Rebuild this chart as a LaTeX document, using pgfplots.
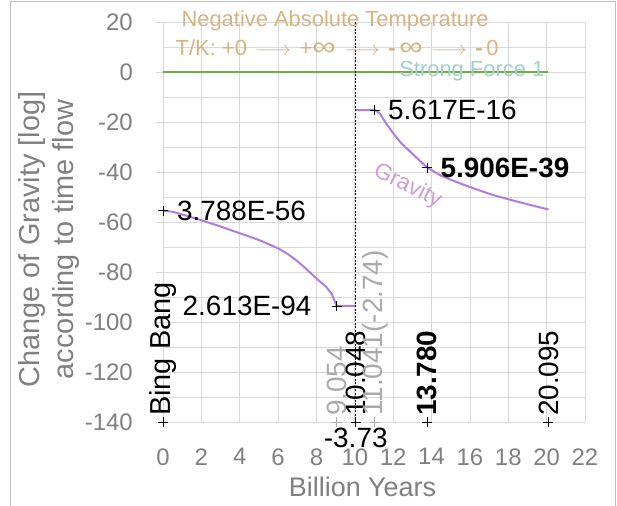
\documentclass[border=0pt]{standalone}
\usepackage{fontspec}
\setmainfont{Liberation Sans}
\usepackage{graphicx}
\usepackage{pgfplots}
\pgfplotsset{compat=1.18}
\definecolor{gridgray}{RGB}{217,217,217}
\definecolor{tickgray}{RGB}{128,128,128}
\definecolor{tantxt}{RGB}{216,178,130}
\definecolor{tealtxt}{RGB}{165,205,205}
\definecolor{sfgreen}{RGB}{112,173,71}
\definecolor{gpurple}{RGB}{175,125,225}
\definecolor{lilac}{RGB}{205,160,210}
\definecolor{lgray}{RGB}{170,170,170}
\definecolor{framegray}{RGB}{190,190,190}
\newcommand{\infy}{\raisebox{-0.5bp}{\scalebox{1.5}[1.2]{∞}}}
\newcommand{\arr}{\hspace{8bp}\scalebox{1.1}[1]{$\longrightarrow$}\hspace{8bp}}
\begin{document}
\begin{tikzpicture}
\path[use as bounding box] (-163bp,-84bp) rectangle (454bp,422bp);
\begin{axis}[
  scale only axis, width=422bp, height=400bp, anchor=south west, at={(0,0)},
  xmin=0, xmax=22, ymin=-140, ymax=20,
  xtick={0,2,...,22}, ytick={-140,-120,...,20}, minor ytick={-130,-110,...,10},
  grid=both,
  major grid style={gridgray, line width=0.8bp},
  minor grid style={gridgray, line width=0.8bp},
  axis line style={draw=none},
  xtick pos=bottom, ytick pos=left,
  tick align=outside, major tick length=7bp, minor tick length=0pt,
  xtick style={draw=none},
  ytick style={gridgray, line width=0.8bp},
  tick label style={font=\fontsize{24}{28}\selectfont, text=tickgray},
  /pgf/number format/assume math mode=true,
  xticklabel style={yshift=-16bp},
  yticklabel style={anchor=east, inner sep=0pt},
  yticklabel shift=23bp,
  clip=false,
]
% strong force
\addplot[sfgreen, line width=2.5bp] coordinates {(0,0) (20.095,0)};
% gravity part 1
\addplot[gpurple, line width=2bp] coordinates {
 (0,-55.42) (0.5,-55.9) (1,-57.0) (2,-59.3) (3,-61.8) (4,-64.5) (5,-67.2)
 (6,-70.5) (6.5,-72.8) (7,-75.6) (7.5,-79.0) (8,-82.6) (8.5,-85.9) (8.8,-88.8)
 (9.054,-93.58) (10.048,-93.58)};
% gravity part 2
\addplot[gpurple, line width=2bp] coordinates {
 (10.048,-15.25) (11.041,-15.25) (11.3,-16.6) (11.6,-20.2) (12.0,-24.5) (12.4,-28.3)
 (12.9,-32.0) (13.35,-35.2) (13.78,-38.23) (14.5,-41.5) (15.5,-44.6) (16.4,-47.1)
 (17.2,-49.2) (18.1,-51.1) (19.0,-52.9) (20.095,-55.0)};
% dotted divider
\addplot[black, line width=1.2bp, dash pattern=on 2bp off 1.5bp] coordinates {(10.048,20) (10.048,-140)};
% markers
\addplot[only marks, mark=+, mark size=5bp, black, line width=0.8bp] coordinates {
 (0,-55.42) (9.054,-93.58) (11.041,-15.25) (13.78,-38.23)
 (0,-140) (10.048,-140) (13.78,-140) (20.095,-140)};
\addplot[only marks, mark=+, mark size=5bp, lgray, line width=0.8bp] coordinates {
 (9.054,-140) (11.041,-140)};
% data labels
\node[anchor=west, inner sep=0pt, font=\fontsize{28}{32}\selectfont] at (axis cs:0.73,-55.42) {3.788E-56};
\node[anchor=east, inner sep=0pt, font=\fontsize{28}{32}\selectfont] at (axis cs:7.75,-93.58) {2.613E-94};
\node[anchor=west, inner sep=0pt, font=\fontsize{28}{32}\selectfont] at (axis cs:11.72,-15.25) {5.617E-16};
\node[anchor=west, inner sep=0pt, font=\bfseries\fontsize{28}{32}\selectfont] at (axis cs:14.46,-38.23) {5.906E-39};
% bottom rotated labels
\node[rotate=90, anchor=west, inner sep=0pt, font=\fontsize{29}{32}\selectfont] at (axis cs:0,-137.6) {Bing Bang};
\node[rotate=90, anchor=west, inner sep=0pt, text=lgray, font=\fontsize{28}{32}\selectfont] at (axis cs:9.054,-137.6) {9.054};
\node[rotate=90, anchor=west, inner sep=0pt, font=\fontsize{28}{32}\selectfont] at (axis cs:10.048,-137.6) {10.048};
\node[rotate=90, anchor=west, inner sep=0pt, text=lgray, font=\fontsize{28}{32}\selectfont] at (axis cs:11.041,-137.6) {11.041(-2.74)};
\node[rotate=90, anchor=west, inner sep=0pt, font=\bfseries\fontsize{28}{32}\selectfont] at (axis cs:13.78,-137.6) {13.780};
\node[rotate=90, anchor=west, inner sep=0pt, font=\fontsize{28}{32}\selectfont] at (axis cs:20.095,-137.6) {20.095};
\node[inner sep=0pt, font=\fontsize{28}{32}\selectfont] at (axis cs:10.048,-146.4) {-3.73};
% series labels
\node[inner sep=0pt, text=tantxt, font=\fontsize{22}{26}\selectfont] at (axis cs:8.97,20.3) {Negative Absolute Temperature};
\node[inner sep=0pt, text=tantxt, font=\fontsize{22}{26}\selectfont] at (axis cs:9.08,9.8) {T/K: +0\arr+\infy\arr{\bfseries -}\,\infy\arr{\bfseries -}\,0};
\node[inner sep=0pt, text=tealtxt, font=\fontsize{22}{26}\selectfont] at (axis cs:16.1,0.2) {Strong Force 1};
\node[inner sep=0pt, rotate=-26, text=lilac, font=\fontsize{23}{28}\selectfont] at (axis cs:12.75,-45.6) {Gravity};
% axis titles
\node[inner sep=0pt, text=tickgray, font=\fontsize{27}{32}\selectfont] at (axis cs:10.4,-166) {Billion Years};
\node[inner sep=0pt, rotate=90, align=center, text=tickgray, font=\fontsize{29}{34}\selectfont] at (axis cs:-5.94,-67) {Change of Gravity [log]\\according to time flow};
\end{axis}
\draw[framegray, line width=1bp] (-152.5bp,-84bp) -- (-152.5bp,420bp) -- (452bp,420bp) -- (452bp,-84bp);
\end{tikzpicture}
\end{document}
